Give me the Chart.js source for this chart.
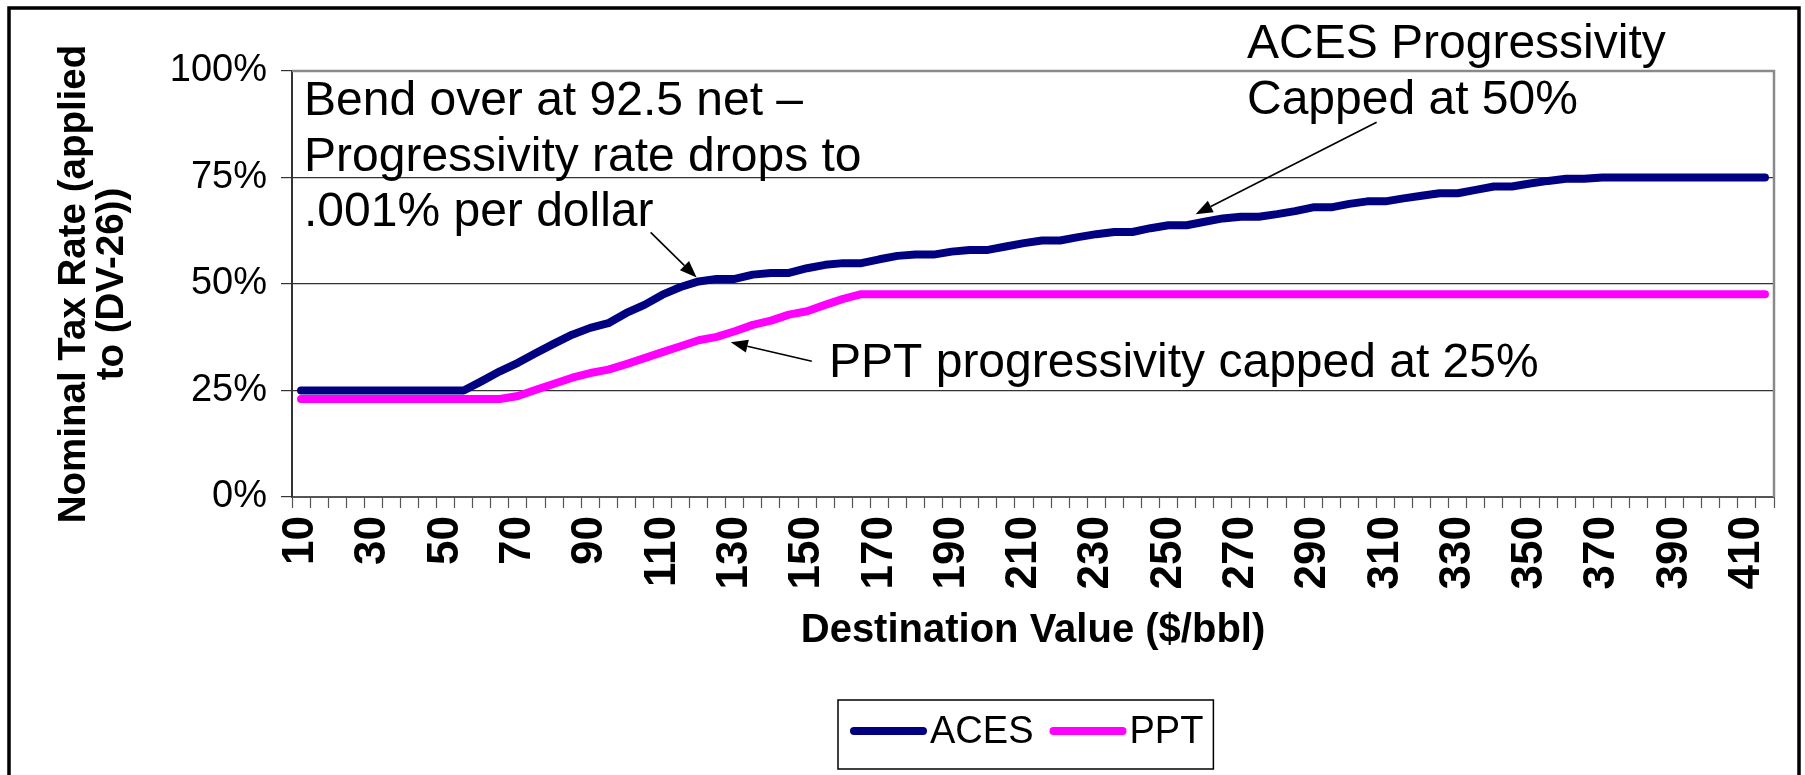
<!DOCTYPE html>
<html>
<head>
<meta charset="utf-8">
<script src="https://cdn.jsdelivr.net/npm/chart.js@4/dist/chart.umd.min.js"></script>
<style>
html,body{margin:0;padding:0;background:#fff;}
#c{display:block;}
</style>
</head>
<body>
<canvas id="c" width="1805" height="775" style="width:1805px;height:775px"></canvas>
<script>
// ---- data ----
const categories = [10,15,20,25,30,35,40,45,50,55,60,65,70,75,80,85,90,95,100,105,
  110,115,120,125,130,135,140,145,150,155,160,165,170,175,180,185,190,195,200,205,
  210,215,220,225,230,235,240,245,250,255,260,265,270,275,280,285,290,295,300,305,
  310,315,320,325,330,335,340,345,350,355,360,365,370,375,380,385,390,395,400,405,
  410,415];
const acesRate = [25,25,25,25,25,25,25,25,25,25,
  27.2,29.5,31.5,33.8,36.0,38.1,39.7,40.8,43.2,45.1,
  47.5,49.3,50.6,51.2,51.2,52.2,52.6,52.6,53.7,54.5,
  54.9,54.9,55.8,56.6,56.9,56.9,57.6,58.0,58.0,58.8,
  59.6,60.2,60.2,61.0,61.7,62.2,62.2,63.1,63.8,63.8,
  64.6,65.4,65.8,65.8,66.4,67.1,68.0,68.0,68.8,69.4,
  69.4,70.1,70.7,71.3,71.3,72.1,72.9,72.9,73.6,74.2,
  74.7,74.7,75,75,75,75,75,75,75,75,
  75,75];
const pptRate = [23,23,23,23,23,23,23,23,23,23,
  23,23,23.7,25.2,26.6,28.0,29.1,29.9,31.2,32.6,
  34.0,35.4,36.8,37.6,38.9,40.4,41.4,42.8,43.6,45.1,
  46.5,47.6,47.6,47.6,47.6,47.6,47.6,47.6,47.6,47.6,
  47.6,47.6,47.6,47.6,47.6,47.6,47.6,47.6,47.6,47.6,
  47.6,47.6,47.6,47.6,47.6,47.6,47.6,47.6,47.6,47.6,
  47.6,47.6,47.6,47.6,47.6,47.6,47.6,47.6,47.6,47.6,
  47.6,47.6,47.6,47.6,47.6,47.6,47.6,47.6,47.6,47.6,
  47.6,47.6];
const yTickValues = [0,25,50,75,100];
const xLabelStep = 20;
const seriesNames = ['ACES','PPT'];
const yTitle = ['Nominal Tax Rate (applied','to (DV-26))'];
const xTitle = 'Destination Value ($/bbl)';
const bendNote = ['Bend over at 92.5 net \u2013','Progressivity rate drops to','.001% per dollar'];
const acesCapNote = ['ACES Progressivity','Capped at 50%'];
const pptCapNote = ['PPT progressivity capped at 25%'];

const FONT = '"Liberation Sans", Arial, sans-serif';

function drawArrow(ctx, x1, y1, x2, y2) {
  const a = Math.atan2(y2 - y1, x2 - x1), L = 17, W = 6.5;
  const bx = x2 - L * Math.cos(a), by = y2 - L * Math.sin(a);
  ctx.beginPath();
  ctx.moveTo(x1, y1); ctx.lineTo(bx, by);
  ctx.lineWidth = 1.6; ctx.strokeStyle = '#000'; ctx.stroke();
  ctx.beginPath();
  ctx.moveTo(x2, y2);
  ctx.lineTo(bx + W * Math.sin(a), by - W * Math.cos(a));
  ctx.lineTo(bx - W * Math.sin(a), by + W * Math.cos(a));
  ctx.closePath(); ctx.fillStyle = '#000'; ctx.fill();
}

const framePlugin = {
  id: 'frame',
  beforeDraw(chart) {
    const ctx = chart.ctx;
    ctx.save();
    ctx.fillStyle = '#fff';
    ctx.fillRect(0, 0, chart.width, chart.height);
    ctx.restore();
  },
  beforeDatasetsDraw(chart) {
    const {ctx, chartArea: a} = chart;
    ctx.save();
    ctx.strokeStyle = '#8a8a8a';
    ctx.lineWidth = 2.5;
    ctx.beginPath();
    ctx.moveTo(a.left, a.top);
    ctx.lineTo(a.right, a.top);
    ctx.lineTo(a.right, a.bottom);
    ctx.stroke();
    ctx.restore();
  },
  afterDraw(chart) {
    const {ctx, chartArea: a, scales: {x, y}} = chart;
    ctx.save();
    // outer frame
    ctx.strokeStyle = '#000';
    ctx.lineWidth = 3.5;
    ctx.strokeRect(9, 8, 1790, 820);

    // annotation texts
    ctx.fillStyle = '#000';
    ctx.font = '48px ' + FONT;
    ctx.textAlign = 'left';
    ctx.textBaseline = 'alphabetic';
    bendNote.forEach((t, i) => ctx.fillText(t, a.left + 12, a.top + 44 + i * 55.5));
    acesCapNote.forEach((t, i) => ctx.fillText(t, 1247, 58 + i * 55.5));
    pptCapNote.forEach((t, i) => ctx.fillText(t, 829, 377));

    // arrows anchored on the series
    const i120 = categories.indexOf(120);
    const t1x = x.getPixelForValue(i120) - 2, t1y = y.getPixelForValue(acesRate[i120]) - 4;
    drawArrow(ctx, t1x - 46, t1y - 45, t1x, t1y);
    const i255 = categories.indexOf(255);
    const t2x = x.getPixelForValue(i255) + 9, t2y = y.getPixelForValue(acesRate[i255]) - 11;
    drawArrow(ctx, t2x + 181, t2y - 92, t2x, t2y);
    const i130 = categories.indexOf(130);
    const t3x = x.getPixelForValue(i130) - 4, t3y = y.getPixelForValue(pptRate[i130]) + 11;
    drawArrow(ctx, t3x + 81, t3y + 19, t3x, t3y);

    // legend
    const ds = chart.data.datasets;
    ctx.font = '38px ' + FONT;
    const boxL = 838, boxT = 700, boxB = 769, midY = 731;
    let cx = boxL + 12;
    ds.forEach((d) => {
      ctx.beginPath();
      ctx.lineCap = 'round';
      ctx.lineWidth = 8;
      ctx.strokeStyle = d.borderColor;
      ctx.moveTo(cx + 4, midY); ctx.lineTo(cx + 73, midY);
      ctx.stroke();
      ctx.fillStyle = '#000';
      ctx.textBaseline = 'middle';
      ctx.fillText(d.label, cx + 80, midY + 2);
      cx = cx + 80 + ctx.measureText(d.label).width + 16;
    });
    ctx.lineWidth = 1.5;
    ctx.strokeStyle = '#000';
    ctx.lineCap = 'butt';
    ctx.strokeRect(boxL, boxT, cx - boxL - 6, boxB - boxT);
    ctx.restore();
  }
};

const lineStyle = {borderWidth: 8, pointRadius: 0, pointHoverRadius: 0, tension: 0,
  borderCapStyle: 'round', borderJoinStyle: 'round', fill: false};

new Chart(document.getElementById('c'), {
  type: 'line',
  data: {
    labels: categories,
    datasets: [
      Object.assign({label: seriesNames[0], data: acesRate, borderColor: '#000080', backgroundColor: '#000080'}, lineStyle),
      Object.assign({label: seriesNames[1], data: pptRate, borderColor: '#FF00FF', backgroundColor: '#FF00FF'}, lineStyle)
    ]
  },
  options: {
    responsive: false,
    animation: false,
    devicePixelRatio: 1,
    layout: {padding: {left: 0, right: 31, top: 71, bottom: 117}},
    plugins: {legend: {display: false}, tooltip: {enabled: false}, title: {display: false}},
    scales: {
      x: {
        type: 'category',
        offset: true,
        grid: {offset: true, drawOnChartArea: false, drawTicks: true, tickLength: 11, tickColor: '#555', tickWidth: 1.2},
        border: {display: true, color: '#555', width: 2},
        ticks: {
          autoSkip: false, maxRotation: 90, minRotation: 90, padding: 8, color: '#000',
          font: {family: FONT, size: 44, weight: 'bold'},
          callback: function (v, i) { const c = categories[i]; return ((c - categories[0]) % xLabelStep === 0) ? String(c) : ''; }
        },
        title: {display: true, text: xTitle, color: '#000', font: {family: FONT, size: 40, weight: 'bold', lineHeight: 1}, padding: {top: 0, bottom: 7}},
        afterFit(scale) { scale.height = 161; scale.paddingLeft = 0; scale.paddingRight = 0; }
      },
      y: {
        min: 0, max: 100,
        afterBuildTicks(scale) { scale.ticks = yTickValues.map(v => ({value: v})); },
        ticks: {padding: 14, color: '#000', font: {family: FONT, size: 38}, callback: v => v + '%'},
        grid: {color: c => (c.tick && c.tick.value === 100) ? 'rgba(0,0,0,0)' : '#333', lineWidth: 1.2, tickLength: 11, tickColor: '#333', drawTicks: true},
        border: {display: true, color: '#333', width: 2},
        title: {display: true, text: yTitle, color: '#000', font: {family: FONT, size: 38.5, weight: 'bold', lineHeight: 1.0}, padding: {top: 55, bottom: 0}},
        afterFit(scale) { scale.width = 292; scale.paddingTop = 0; scale.paddingBottom = 0; }
      }
    }
  },
  plugins: [framePlugin]
});
</script>
</body>
</html>
